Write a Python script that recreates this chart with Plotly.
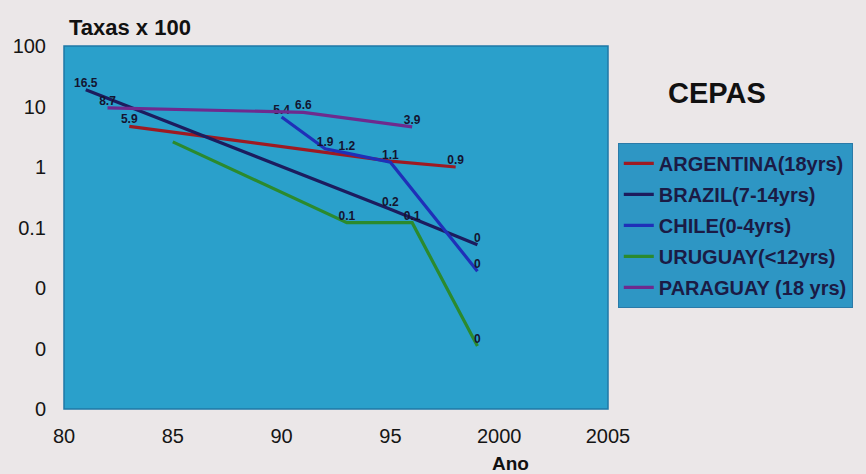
import plotly.graph_objects as go

# ---- data ----
arg_years = [1983, 1990, 1995, 1998]
arg_vals = [4.7, 2.2, 1.25, 1.0]
arg_text = ["5.9", "", "", "0.9"]

bra_years = [1981, 1995, 1999]
bra_vals = [19.0, 0.2, 0.052]
bra_text = ["16.5", "0.2", "0"]

chi_years = [1990, 1992, 1993, 1995, 1999]
chi_vals = [6.7, 2.0, 1.7, 1.2, 0.019]
chi_text = ["5.4", "1.9", "1.2", "1.1", "0"]

uru_years = [1985, 1993, 1996, 1999]
uru_vals = [2.6, 0.12, 0.12, 0.0011]
uru_text = ["", "0.1", "0.1", "0"]

par_years = [1982, 1991, 1996]
par_vals = [9.5, 8.0, 4.6]
par_text = ["8.7", "6.6", "3.9"]

series_names = ["ARGENTINA(18yrs)", "BRAZIL(7-14yrs)", "CHILE(0-4yrs)",
                "URUGUAY(<12yrs)", "PARAGUAY (18 yrs)"]
series_colors = ["#9e1a22", "#1c1c5e", "#1f30b8", "#2b8a2e", "#6e2a8e"]

x_tickvals = [1980, 1985, 1990, 1995, 2000, 2005]
x_ticktext = ["80", "85", "90", "95", "2000", "2005"]
y_tickvals = [100, 10, 1, 0.1, 0.01, 0.001, 0.0001]
y_ticktext = ["100", "10", "1", "0.1", "0", "0", "0"]

series = [
    (arg_years, arg_vals, arg_text),
    (bra_years, bra_vals, bra_text),
    (chi_years, chi_vals, chi_text),
    (uru_years, uru_vals, uru_text),
    (par_years, par_vals, par_text),
]

fig = go.Figure()
for (xs, ys, tx), name, col in zip(series, series_names, series_colors):
    fig.add_trace(go.Scatter(
        x=xs, y=ys, text=tx, name=name, legendgroup=name,
        mode="lines+text", textposition="top center",
        line=dict(color=col, width=3.2),
        textfont=dict(family="Liberation Sans, Arial", size=12, color="#141430", weight="bold"),
        cliponaxis=False,
    ))

W, H = 866, 474
ml, mr, mt, mb = 64, 258, 46, 65
PAGE_BG = "#ebe7e8"

fig.update_layout(
    width=W, height=H,
    margin=dict(l=ml, r=mr, t=mt, b=mb),
    paper_bgcolor=PAGE_BG,
    plot_bgcolor="#2aa0cb",
    showlegend=True,
    legend=dict(
        x=1.018, y=0.733, xanchor="left", yanchor="top",
        bgcolor="#2e96c4", bordercolor="#2a7aa8", borderwidth=1,
        font=dict(family="Liberation Sans, Arial", size=20, color="#1b1b45", weight="bold"),
        itemwidth=30, traceorder="grouped", tracegroupgap=2,
    ),
    xaxis=dict(
        range=[1980, 2005], tickvals=x_tickvals, ticktext=x_ticktext,
        showgrid=False, zeroline=False, showline=False,
        tickfont=dict(family="Liberation Sans, Arial", size=20, color="#151515"),
        ticklabelstandoff=13,
    ),
    yaxis=dict(
        type="log", range=[-4, 2], tickvals=y_tickvals, ticktext=y_ticktext,
        showgrid=False, zeroline=False, showline=False,
        tickfont=dict(family="Liberation Sans, Arial", size=20, color="#151515"),
        ticklabelstandoff=17,
    ),
    annotations=[
        dict(text="<b>Taxas x 100</b>", xref="paper", yref="paper", x=0.122, y=1.05,
             xanchor="center", yanchor="middle", showarrow=False,
             font=dict(family="Liberation Sans, Arial", size=22, color="#111111")),
        dict(text="<b>CEPAS</b>", xref="paper", yref="paper", x=1.2, y=0.87,
             xanchor="center", yanchor="middle", showarrow=False,
             font=dict(family="Liberation Sans, Arial", size=29, color="#111111")),
        dict(text="<b>Ano</b>", xref="paper", yref="paper", x=0.82, y=-0.149,
             xanchor="center", yanchor="middle", showarrow=False,
             font=dict(family="Liberation Sans, Arial", size=19, color="#111111")),
    ],
    shapes=[
        dict(type="rect", xref="paper", yref="paper", x0=0, y0=0, x1=1, y1=1,
             line=dict(color="#1f78a6", width=1.5), fillcolor="rgba(0,0,0,0)", layer="above"),
    ],
)

fig.write_html(
    "out.html",
    config={"displayModeBar": False},
    post_script=(
        "document.body.style.margin='0';"
        "document.body.style.padding='0';"
        "document.body.style.background='" + PAGE_BG + "';"
        "document.body.style.overflow='hidden';"
    ),
)
